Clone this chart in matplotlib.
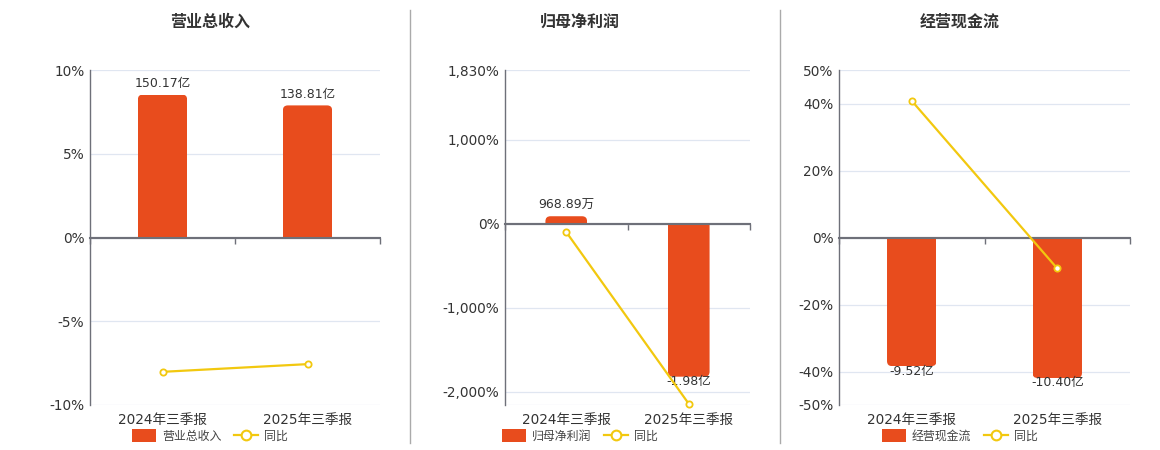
import matplotlib
matplotlib.use("Agg")
import matplotlib.pyplot as plt
from matplotlib.ticker import FuncFormatter, FixedLocator
from matplotlib.lines import Line2D
from matplotlib.patches import Patch, FancyBboxPatch
import matplotlib.transforms as mtransforms

plt.rcParams['font.family'] = ['DejaVu Sans', 'Noto Sans CJK SC']

categories = ["2024年三季报", "2025年三季报"]

titles = ["营业总收入", "归母净利润", "经营现金流"]
series_names = ["营业总收入", "归母净利润", "经营现金流"]

# bar values in 亿
revenue = [150.17, 138.81]
net_profit = [0.096889, -1.98]
cash_flow = [-9.52, -10.40]
bar_labels = [["150.17亿", "138.81亿"], ["968.89万", "-1.98亿"], ["-9.52亿", "-10.40亿"]]

# year-over-year growth in %
revenue_yoy = [-8.02, -7.56]
net_profit_yoy = [-98.8, -2143.6]
cash_flow_yoy = [40.8, -9.24]

pct_ticks = [[-10, -5, 0, 5, 10], [-2000, -1000, 0, 1000, 1830], [-50, -40, -20, 0, 20, 40, 50]]
pct_limits = [(-10, 10), (-2158, 1830), (-50, 50)]
bar_top = [176.0, 1.99, 12.4]

bars_all = [revenue, net_profit, cash_flow]
yoy_all = [revenue_yoy, net_profit_yoy, cash_flow_yoy]

W, H = 1160, 450
fig = plt.figure(figsize=(W / 100, H / 100), dpi=100)

BAR_C = '#e84c1d'
LINE_C = '#f2c80f'
GRID_C = '#e0e6f1'
AXIS_C = '#6e7079'
TEXT_C = '#333333'

areas = [(90, 380), (505, 750), (839, 1130)]
top_px, bot_px = 70, 405
title_x = [210, 580, 960]
legend_x = [210, 580, 960]
BAR_W = 0.34
RADIUS_PX = 5


def pct_fmt(v, pos):
    return f"{v:,.0f}%"


for i in range(3):
    l, r = areas[i]
    wpx, hpx = r - l, bot_px - top_px
    ax = fig.add_axes([l / W, 1 - bot_px / H, wpx / W, hpx / H])
    ymin, ymax = pct_limits[i]
    ax.set_ylim(ymin, ymax)
    ax.set_xlim(-0.5, 1.5)

    ax2 = ax.twinx()
    bt = bar_top[i]
    blo = bt * ymin / ymax
    ax2.set_ylim(blo, bt)
    ax2.axis('off')

    x = list(range(len(categories)))
    bars = ax2.bar(x, bars_all[i], width=BAR_W, color=BAR_C, zorder=2)

    # rounded ends via clip path
    px_per_x = wpx / 2.0
    px_per_y = hpx / (bt - blo)
    r_x = RADIUS_PX / px_per_x
    for rect, v in zip(bars, bars_all[i]):
        x0 = rect.get_x()
        a = abs(v)
        clip = FancyBboxPatch((x0, -a), rect.get_width(), 2 * a,
                              boxstyle=f"round,pad=0,rounding_size={r_x}",
                              mutation_aspect=px_per_x / px_per_y,
                              transform=ax2.transData, facecolor='none', edgecolor='none')
        rect.set_clip_path(clip)

    ax2.axhline(0, color=AXIS_C, lw=1.5, zorder=3)

    for xi, v, lab in zip(x, bars_all[i], bar_labels[i]):
        off = 8 if v >= 0 else -3.6
        ax2.annotate(lab, (xi, v), xytext=(0, off), textcoords='offset points',
                     ha='center', va='center', fontsize=9.0, color=TEXT_C, zorder=4)

    ax2.plot(x, yoy_all[i], color=LINE_C, lw=1.6, marker='o', ms=4.5,
             mfc='white', mec=LINE_C, mew=1.3, zorder=5, transform=ax.transData,
             clip_on=False)

    ax.yaxis.set_major_locator(FixedLocator(pct_ticks[i]))
    ax.yaxis.set_major_formatter(FuncFormatter(pct_fmt))
    ax.set_yticks([ymin], minor=True)
    ax.tick_params(axis='y', which='both', length=0, pad=4, labelsize=9.8, labelcolor=TEXT_C)
    ax.grid(axis='y', which='both', color=GRID_C, lw=0.9, zorder=0)
    ax.set_axisbelow(True)

    for s in ['top', 'right']:
        ax.spines[s].set_visible(False)
    ax.spines['left'].set_color(AXIS_C)
    ax.spines['left'].set_linewidth(1.0)
    ax.spines['bottom'].set_position(('data', 0))
    ax.spines['bottom'].set_color(AXIS_C)
    ax.spines['bottom'].set_linewidth(1.5)

    ax.set_xticks([-0.5, 0.5, 1.5])
    ax.set_xticklabels(['', '', ''])
    ax.tick_params(axis='x', length=4, width=1, color=AXIS_C, direction='out')

    trans = mtransforms.blended_transform_factory(ax.transData, ax.transAxes)
    for xi, c in zip(x, categories):
        ax.text(xi, -15 / hpx, c, transform=trans, ha='center', va='center',
                fontsize=9.8, color=TEXT_C)

    fig.text(title_x[i] / W, 1 - 22 / H, titles[i], ha='center', va='center',
             fontsize=11.5, fontweight='bold', color=TEXT_C)

    handles = [Patch(facecolor=BAR_C, edgecolor='none', label=series_names[i]),
               Line2D([], [], color=LINE_C, lw=1.6, marker='o', ms=7, mfc='white',
                      mec=LINE_C, mew=1.5, label='同比')]
    fig.legend(handles=handles, loc='center', ncol=2,
               bbox_to_anchor=(legend_x[i] / W, 1 - 436 / H), frameon=False,
               fontsize=8.6, handlelength=2.0, handleheight=1.3, handletextpad=0.5,
               columnspacing=1.1, borderpad=0, labelcolor='#444444')

for sx in [410, 780]:
    fig.add_artist(Line2D([sx / W, sx / W], [1 - 443 / H, 1 - 10 / H],
                          transform=fig.transFigure, color='#aaaaaa', lw=1))

fig.savefig('out.png', dpi=100, facecolor='white')
